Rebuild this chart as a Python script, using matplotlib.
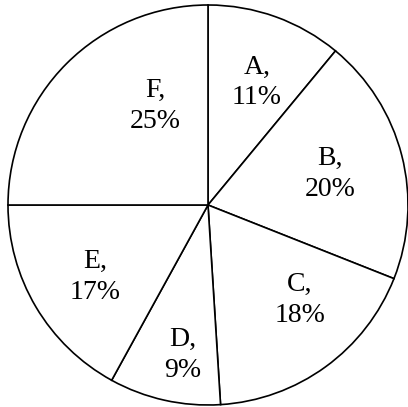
import numpy as np
import matplotlib
matplotlib.use("Agg")
import matplotlib.pyplot as plt

# slice data, clockwise from the top
categories = ["A", "B", "C", "D", "E", "F"]
shares = [11, 20, 18, 9, 17, 25]

# label placement tweaks (radius fraction, angle shift in degrees)
label_r = [0.66, 0.63, 0.66, 0.76, 0.67, 0.56]
label_shift = [-2, 0, 8, 3, 2, -17]

plt.rcParams["font.family"] = ["Liberation Serif", "DejaVu Serif"]

fig = plt.figure(figsize=(4.08, 4.07), dpi=100)
ax = fig.add_axes([0, 0, 1, 1])

wedges, _ = ax.pie(shares, startangle=90, counterclock=False,
                   colors=["white"] * len(shares),
                   wedgeprops=dict(edgecolor="black", linewidth=1.2))

for w, cat, pct, r, sh in zip(wedges, categories, shares, label_r, label_shift):
    mid = np.deg2rad((w.theta1 + w.theta2) / 2 + sh)
    ax.text(r * np.cos(mid), r * np.sin(mid), f"{cat},\n{pct}%",
            ha="center", va="center", fontsize=20, linespacing=1.3)

ax.set_xlim(-1.04, 1.0)
ax.set_ylim(-1.01, 1.025)
ax.set_aspect("auto")
ax.axis("off")

fig.savefig("out.png", dpi=100, facecolor="white")
